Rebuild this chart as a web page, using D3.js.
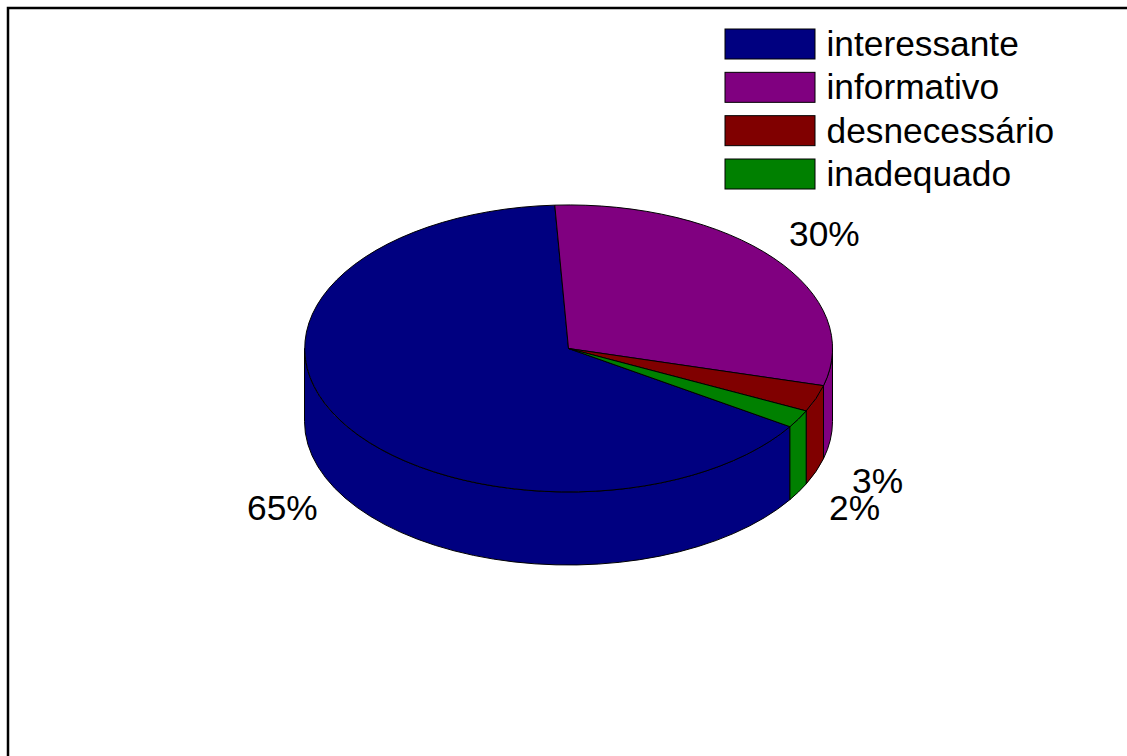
<!DOCTYPE html>
<html><head><meta charset="utf-8">
<script src="https://cdn.jsdelivr.net/npm/d3@7"></script>
<style>html,body{margin:0;padding:0;background:#fff;overflow:hidden}svg{display:block}text{font-family:"Liberation Sans",Arial,sans-serif;font-size:35.3px;fill:#000}</style>
</head><body><svg id="c" width="1127" height="756"></svg>
<script>
const categories = ["interessante","informativo","desnecessário","inadequado"];
const values = [65,30,3,2];
const colors = ["#000080","#800080","#800000","#008000"];
const percentLabels = ["65%","30%","3%","2%"];
const labelAnchors = [[247,520],[789,246],[852,493],[829,520]];

const W=1127,H=756,cx=568.5,cy=348.5,rx=264,ry=143.5,depth=73;
const svg=d3.select("#c");
svg.append("rect").attr("width",W).attr("height",H).attr("fill","#fff");
svg.append("path").attr("d",`M8,${H}V8H${W}`).attr("fill","none").attr("stroke","#000").attr("stroke-width",2.5);

const startDeg=123;
const pie=d3.pie().sort(null).value(d=>d).startAngle(startDeg*Math.PI/180).endAngle((startDeg+360)*Math.PI/180);
const arcs=pie(values);
const pt=(a,dy=0)=>[cx+rx*Math.sin(a),cy-ry*Math.cos(a)+dy];

// side walls: visible where the angle lies in the front half (90deg..270deg, modulo 360)
const side=[];
arcs.forEach((s,i)=>{
  [0,2*Math.PI].forEach(shift=>{
    const a0=Math.max(s.startAngle-shift,Math.PI/2),a1=Math.min(s.endAngle-shift,1.5*Math.PI);
    if(a1>a0) side.push({a0,a1,i});
  });
});
const wall=d=>{
  const p0=pt(d.a0),p1=pt(d.a1),q1=pt(d.a1,depth),q0=pt(d.a0,depth);
  const large=(d.a1-d.a0)>Math.PI?1:0;
  return `M${p0}A${rx},${ry} 0 ${large} 1 ${p1}L${q1}A${rx},${ry} 0 ${large} 0 ${q0}Z`;
};
svg.append("g").selectAll("path").data(side).join("path")
  .attr("d",wall).attr("fill",d=>colors[d.i]).attr("stroke","#000").attr("stroke-width",1).attr("stroke-linejoin","round");

const arc=d3.arc().innerRadius(0).outerRadius(1);
svg.append("g").attr("transform",`translate(${cx},${cy}) scale(${rx},${ry})`)
  .selectAll("path").data(arcs).join("path")
  .attr("d",arc).attr("fill",(d,i)=>colors[i]).attr("stroke","#000").attr("stroke-width",1)
  .attr("vector-effect","non-scaling-stroke");

svg.append("g").selectAll("text").data(percentLabels).join("text")
  .attr("x",(d,i)=>labelAnchors[i][0]).attr("y",(d,i)=>labelAnchors[i][1]).text(d=>d);

const rowY=d3.scalePoint().domain(categories).range([44,174]);
const leg=svg.append("g").selectAll("g").data(categories).join("g");
leg.append("rect").attr("x",725).attr("y",d=>rowY(d)-15).attr("width",90).attr("height",30)
  .attr("fill",(d,i)=>colors[i]).attr("stroke","#000").attr("stroke-width",1);
leg.append("text").attr("x",826.5).attr("y",d=>rowY(d)+12).text(d=>d);
</script></body></html>
